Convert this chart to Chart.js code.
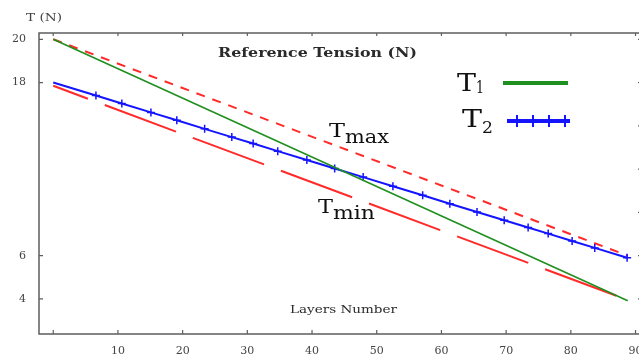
<!DOCTYPE html>
<html>
<head>
<meta charset="utf-8">
<script src="https://cdn.jsdelivr.net/npm/chart.js@4.4.1/dist/chart.umd.min.js"></script>
<style>
  html, body { margin: 0; padding: 0; background: #fff; overflow: hidden; }
  #wrap { position: relative; width: 660px; height: 356px; }
</style>
</head>
<body>
<div id="wrap"><canvas id="chart" width="660" height="356"></canvas></div>
<script>
// values (y in plot units; the left axis labels are mapped below)
var t1X = [0, 88.8];
var t1Y = [20, 7.92];
var t2X = [0, 6.6, 10.6, 15.1, 19.1, 23.4, 27.6, 30.9, 34.7, 39.2, 43.5, 47.9, 52.5, 57.1, 61.3, 65.5, 69.7, 73.4, 76.5, 80.2, 83.7, 88.7];
var t2Y = [18, 17.40, 17.03, 16.62, 16.26, 15.86, 15.48, 15.18, 14.83, 14.42, 14.03, 13.63, 13.21, 12.79, 12.40, 12.02, 11.64, 11.30, 11.02, 10.68, 10.36, 9.90];
var tmaxX = [0, 88.8];
var tmaxY = [20, 10.0];
var tminX = [0, 88.8];
var tminY = [17.85, 7.95];

var xTicks = [0, 10, 20, 30, 40, 50, 60, 70, 80, 90];
var xTickLabels = ['', '10', '20', '30', '40', '50', '60', '70', '80', '90'];
var yTicks = [20, 18, 10, 8];
var yTickLabels = ['20', '18', '6', '4'];
var yRightTicks = [20, 18, 16, 14, 12, 10, 8];

var COLORS = {
  green: '#1f8f1f',
  blue: '#1414ff',
  red: '#ff2a2a',
  axis: '#5e5e5e',
  text: '#2a2a2a',
  ink: '#111111',
};

function toPoints(xs, ys) {
  return xs.map(function (x, i) { return { x: x, y: ys[i] }; });
}

/**
 * Draw text starting at x, on baseline y, stretched to a given width.
 */
function fitText(ctx, text, x, y, font, width, color) {
  ctx.save();
  ctx.font = font;
  ctx.fillStyle = color;
  ctx.textAlign = 'left';
  ctx.textBaseline = 'alphabetic';
  var w = ctx.measureText(text).width;
  ctx.translate(x, y);
  ctx.scale(width / w, 1);
  ctx.fillText(text, 0, 0);
  ctx.restore();
}

var SERIF = '"DejaVu Serif", "Liberation Serif", serif';

// frame with inward tick marks on all four sides
var framePlugin = {
  id: 'frame',
  afterDatasetsDraw: function (chart) {
    var ctx = chart.ctx;
    var a = chart.chartArea;
    var xs = chart.scales.x;
    var ys = chart.scales.y;
    ctx.save();
    ctx.strokeStyle = COLORS.axis;
    ctx.lineWidth = 1.5;
    ctx.beginPath();
    ctx.moveTo(a.left, a.top);
    ctx.lineTo(a.right, a.top);
    ctx.lineTo(a.right, a.bottom);
    ctx.lineTo(a.left, a.bottom);
    ctx.closePath();
    ctx.stroke();
    ctx.lineWidth = 1.2;
    ctx.beginPath();
    xTicks.forEach(function (v) {
      var px = xs.getPixelForValue(v);
      ctx.moveTo(px, a.bottom);
      ctx.lineTo(px, a.bottom - 4);
      ctx.moveTo(px, a.top);
      ctx.lineTo(px, a.top + 3);
    });
    yTicks.forEach(function (v) {
      var py = ys.getPixelForValue(v);
      ctx.moveTo(a.left, py);
      ctx.lineTo(a.left + 4, py);
    });
    yRightTicks.forEach(function (v) {
      var py = ys.getPixelForValue(v);
      ctx.moveTo(a.right, py);
      ctx.lineTo(a.right - 4, py);
    });
    ctx.stroke();
    ctx.restore();
  },
  afterDraw: function (chart) {
    var ctx = chart.ctx;
    var ds = chart.data.datasets;

    fitText(ctx, 'T (N)', 26, 21, '11px ' + SERIF, 36, '#444');
    fitText(ctx, 'Reference Tension (N)', 218, 57, 'bold 13px ' + SERIF, 199, COLORS.text);
    fitText(ctx, 'Layers Number', 290, 313, '11px ' + SERIF, 107, COLORS.text);

    // annotations
    fitText(ctx, 'T', 329, 137, '19px ' + SERIF, 16, COLORS.ink);
    fitText(ctx, 'max', 345, 143, '19px ' + SERIF, 44, COLORS.ink);
    fitText(ctx, 'T', 318, 213, '19px ' + SERIF, 15, COLORS.ink);
    fitText(ctx, 'min', 333, 219, '19px ' + SERIF, 42, COLORS.ink);

    // legend
    fitText(ctx, 'T', 457, 91, '24px ' + SERIF, 19, COLORS.ink);
    fitText(ctx, '1', 476, 93, '16px ' + SERIF, 8, COLORS.ink);
    fitText(ctx, 'T', 462, 127, '24px ' + SERIF, 20, COLORS.ink);
    fitText(ctx, '2', 482, 133, '17px ' + SERIF, 11, COLORS.ink);

    ctx.save();
    ctx.lineWidth = 4;
    ctx.strokeStyle = ds[0].borderColor;
    ctx.beginPath();
    ctx.moveTo(503, 83);
    ctx.lineTo(568, 83);
    ctx.stroke();
    ctx.strokeStyle = ds[1].borderColor;
    ctx.beginPath();
    ctx.moveTo(507, 121);
    ctx.lineTo(570, 121);
    ctx.stroke();
    ctx.lineWidth = 2;
    ctx.beginPath();
    [517, 533, 549, 565].forEach(function (x) {
      ctx.moveTo(x, 115);
      ctx.lineTo(x, 127);
    });
    ctx.stroke();
    ctx.restore();
  },
};

new Chart(document.getElementById('chart'), {
  type: 'line',
  data: {
    datasets: [
      {
        label: 'T1',
        data: toPoints(t1X, t1Y),
        borderColor: COLORS.green,
        borderWidth: 1.6,
        pointRadius: 0,
      },
      {
        label: 'T2',
        data: toPoints(t2X, t2Y),
        borderColor: COLORS.blue,
        backgroundColor: COLORS.blue,
        borderWidth: 2,
        pointStyle: 'cross',
        pointRadius: function (c) { return c.dataIndex === 0 ? 0 : 4; },
        pointBorderWidth: 1.5,
        pointBorderColor: COLORS.blue,
      },
      {
        label: 'Tmax',
        data: toPoints(tmaxX, tmaxY),
        borderColor: COLORS.red,
        borderWidth: 2,
        borderDash: [9, 8],
        pointRadius: 0,
      },
      {
        label: 'Tmin',
        data: toPoints(tminX, tminY),
        borderColor: COLORS.red,
        borderWidth: 2,
        borderDash: [76, 18],
        borderDashOffset: 39,
        pointRadius: 0,
      },
    ],
  },
  options: {
    responsive: false,
    animation: false,
    devicePixelRatio: 1,
    layout: { padding: { left: 0, top: 33, right: 18, bottom: 0 } },
    plugins: {
      legend: { display: false },
      tooltip: { enabled: false },
    },
    scales: {
      x: {
        type: 'linear',
        min: -2.2,
        max: 91.0,
        afterBuildTicks: function (s) {
          s.ticks = xTicks.map(function (v) { return { value: v }; });
        },
        afterFit: function (s) { s.height = 22; },
        grid: { display: false, drawTicks: false },
        border: { display: false },
        ticks: {
          padding: 11,
          maxRotation: 0,
          autoSkip: false,
          color: '#444',
          font: { family: SERIF, size: 11 },
          callback: function (v) { return xTickLabels[xTicks.indexOf(v)]; },
        },
      },
      y: {
        type: 'linear',
        min: 6.38,
        max: 20.29,
        afterBuildTicks: function (s) {
          s.ticks = yTicks.map(function (v) { return { value: v }; });
        },
        afterFit: function (s) { s.width = 39; },
        grid: { display: false, drawTicks: false },
        border: { display: false },
        ticks: {
          padding: 13,
          autoSkip: false,
          color: '#444',
          font: { family: SERIF, size: 11 },
          callback: function (v) { return yTickLabels[yTicks.indexOf(v)]; },
        },
      },
    },
  },
  plugins: [framePlugin],
});
</script>
</body>
</html>
